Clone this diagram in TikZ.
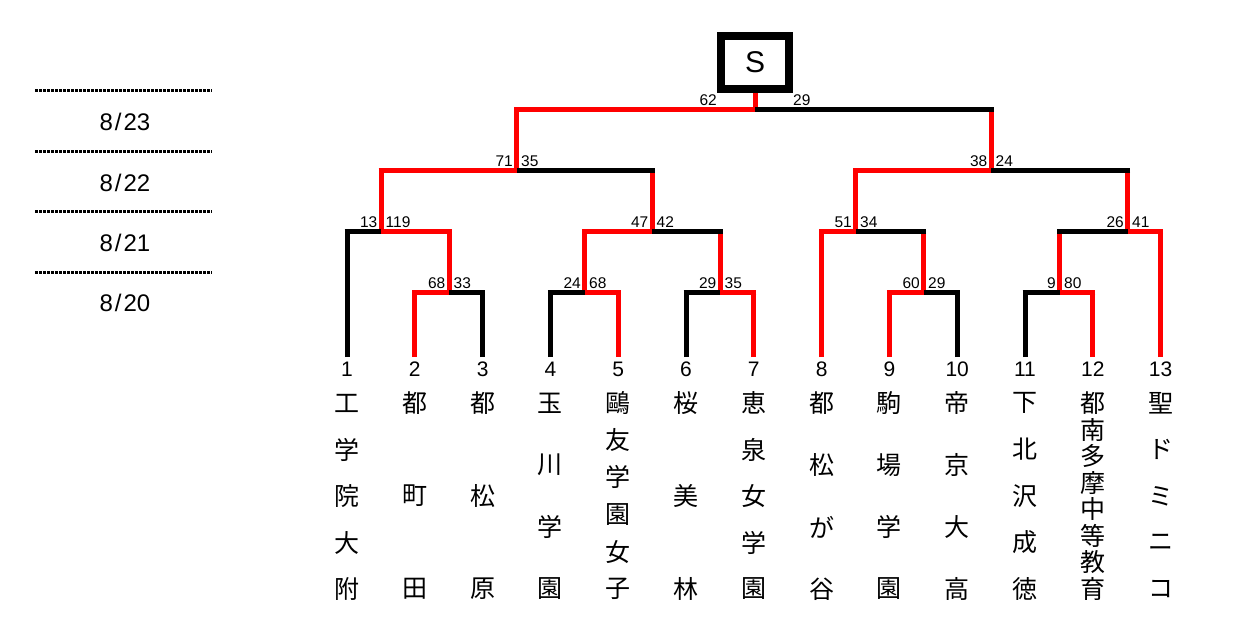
\documentclass[tikz,border=0pt]{standalone}
\usepackage{fontspec}
\setmainfont{Liberation Sans}
\newfontfamily\jp{Noto Sans CJK JP}
\usetikzlibrary{calc}
\begin{document}
\begin{tikzpicture}[x=1pt,y=-1pt,
  lw/.style={line width=5pt},
  wn/.style={lw, draw=red},
  ls/.style={lw, draw=black},
  sc/.style={font=\fontsize{15.5}{16}\selectfont, inner sep=0pt},
  num/.style={font=\fontsize{21}{22}\selectfont, inner sep=0pt, outer sep=5pt, anchor=north},
  ch/.style={font=\jp\fontsize{25}{25}\selectfont, inner sep=0pt},
  dt/.style={font=\fontsize{24}{24}\selectfont, inner sep=0pt},
  dotline/.style={line width=3pt, dash pattern=on 2.5pt off 1.5pt},
  sbox/.style={draw, line width=8pt, minimum width=68pt, minimum height=53pt, inner sep=0pt, font=\fontsize{30}{30}\selectfont},
]
\useasboundingbox (0,0) rectangle (1235,641);

% dates
\foreach \k/\y in {1/90, 2/151, 3/211.5, 4/272.5} {
  \coordinate (da\k) at (35,\y);
  \coordinate (db\k) at (212,\y);
  \draw[dotline] (da\k) -- (db\k);
}
\node[dt] (d23) at (125,121.5) {8{\kern2pt}/{\kern2pt}23};
\node[dt] (d22) at (125,182.5) {8{\kern2pt}/{\kern2pt}22};
\node[dt] (d21) at (125,243) {8{\kern2pt}/{\kern2pt}21};
\node[dt] (d20) at (125,303) {8{\kern2pt}/{\kern2pt}20};

% leaf numbers
\foreach \i in {1,...,13}
  \node[num] (n\i) at ({347+(\i-1)*67.8},357) {\i};

% joints
\coordinate (jA) at (449,292);
\coordinate (jB) at (381,231);
\coordinate (jC) at (584.5,292);
\coordinate (jD) at (720,292);
\coordinate (jE) at (652,231);
\coordinate (jF) at (516.5,170);
\coordinate (jG) at (923.5,292);
\coordinate (jH) at (855.5,231);
\coordinate (jI) at (1059.5,292);
\coordinate (jJ) at (1127.5,231);
\coordinate (jK) at (991,170);
\coordinate (fin) at (755,109);

% champion box
\node[sbox] (S) at (755,62.5) {S};

% leaf verticals
\foreach \s/\j/\c in {n1/jB/ls, n2/jA/wn, n3/jA/ls, n4/jC/ls, n5/jC/wn, n6/jD/ls, n7/jD/wn,
  n8/jH/wn, n9/jG/wn, n10/jG/ls, n11/jI/ls, n12/jI/wn, n13/jJ/wn}
  \draw[\c] (\s.north) -- (\s.north |- \j);
% joint verticals (winner advances)
\foreach \s/\j in {jA/jB, jC/jE, jD/jE, jB/jF, jE/jF, jG/jH, jI/jJ, jH/jK, jJ/jK, jF/fin, jK/fin}
  \draw[wn] (\s) -- (\s |- \j);
\draw[wn] (S.south) -- (fin);

% leaf horizontals
\foreach \s/\j/\c in {n1/jB/ls, n2/jA/wn, n3/jA/ls, n4/jC/ls, n5/jC/wn, n6/jD/ls, n7/jD/wn,
  n8/jH/wn, n9/jG/wn, n10/jG/ls, n11/jI/ls, n12/jI/wn, n13/jJ/wn}
  \draw[\c, shorten <=-2.5pt] (\s.north |- \j) -- (\j);
% joint horizontals
\foreach \s/\j/\c in {jA/jB/wn, jC/jE/wn, jD/jE/ls, jB/jF/wn, jE/jF/ls, jG/jH/ls, jI/jJ/ls,
  jH/jK/wn, jJ/jK/ls, jF/fin/wn, jK/fin/ls}
  \draw[\c, shorten <=-2.5pt] (\s |- \j) -- (\j);

% scores
\foreach \j/\a/\b in {jA/68/33, jB/13/119, jC/24/68, jD/29/35, jE/47/42, jF/71/35,
  jG/60/29, jH/51/34, jI/9/80, jJ/26/41, jK/38/24} {
  \node[sc, anchor=base east] (sl\j) at ($(\j)+(-3.5,-3.5)$) {\a};
  \node[sc, anchor=base west] (sr\j) at ($(\j)+(4.5,-3.5)$) {\b};
}
\node[sc, anchor=base east] (slfin) at ($(S.south west |- fin)+(0,-3.5)$) {62};
\node[sc, anchor=base west] (srfin) at ($(S.south east |- fin)+(0,-3.5)$) {29};

% school names
\foreach \i/\n/\cs in {1/5/{工,学,院,大,附}, 2/3/{都,町,田}, 3/3/{都,松,原},
  4/4/{玉,川,学,園}, 5/6/{鷗,友,学,園,女,子}, 6/3/{桜,美,林}, 7/5/{恵,泉,女,学,園},
  8/4/{都,松,が,谷}, 9/4/{駒,場,学,園}, 10/4/{帝,京,大,高}, 11/5/{下,北,沢,成,徳},
  12/8/{都,南,多,摩,中,等,教,育}, 13/5/{聖,ド,ミ,ニ,コ}} {
  \pgfmathsetmacro\myspc{186/(\n-1)}
  \foreach \c [count=\k from 0] in \cs
    \node[ch] (c\i-\k) at ({347+(\i-1)*67.8},{403+\k*\myspc}) {\c};
}
\end{tikzpicture}
\end{document}
